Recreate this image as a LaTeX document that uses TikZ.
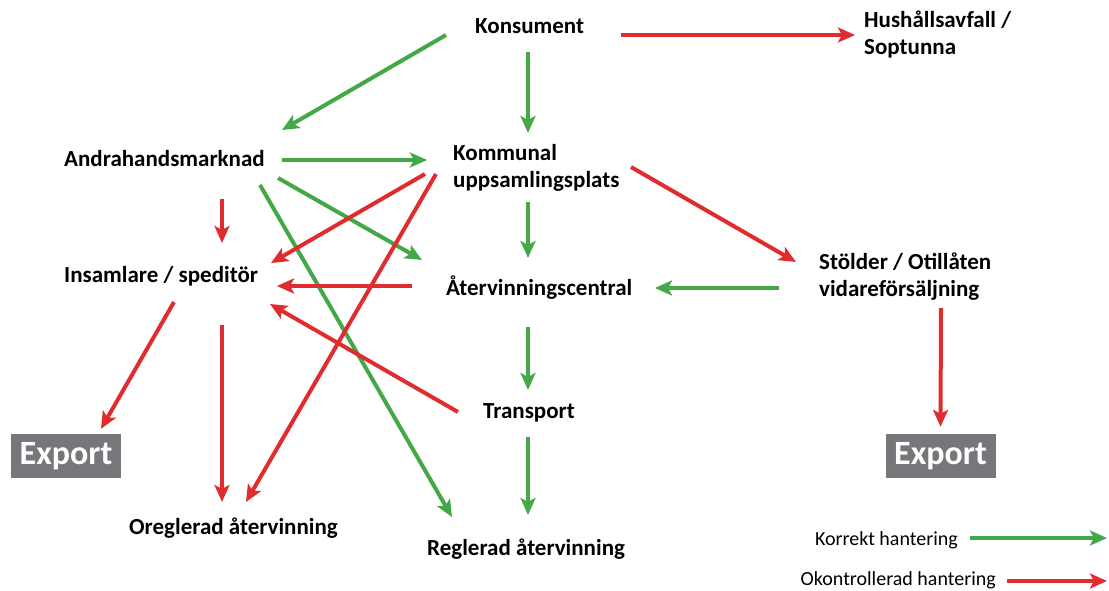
\documentclass[tikz,border=0pt]{standalone}
\usepackage{fontspec}
\setmainfont{Carlito}
\usetikzlibrary{arrows.meta}
\definecolor{okgreen}{RGB}{68,168,72}
\definecolor{badred}{RGB}{224,44,46}
\definecolor{exgray}{RGB}{118,119,123}

\begin{document}
\begin{tikzpicture}[x=1pt,y=-1pt,
    place/.style={font=\bfseries\fontsize{23}{27}\selectfont,inner sep=0pt,anchor=base west,align=left},
    legtext/.style={font=\fontsize{20}{24}\selectfont,inner sep=0pt,anchor=base east},
    exbox/.style={fill=exgray,text=white,font=\bfseries\fontsize{34}{34}\selectfont,
        minimum width=110pt,minimum height=44pt,inner sep=0pt},
    good/.style={draw=okgreen,line width=4pt,-{Stealth[length=17pt,width=15pt,inset=4pt]}},
    bad/.style={draw=badred,line width=4pt,-{Stealth[length=17pt,width=15pt,inset=4pt]}}]
    \useasboundingbox (0,0) rectangle (1109,591);
    % two-line nodes sit on the baseline of their last line
    \node[place] (kons) at (475,34) {Konsument};
    \node[place] (hush) at (864,55) {Hushållsavfall /\\Soptunna};
    \node[place] (andra) at (64,167) {Andrahandsmarknad};
    \node[place] (komm) at (453,187) {Kommunal\\uppsamlingsplats};
    \node[place] (insam) at (64,282) {Insamlare / speditör};
    \node[place] (aterv) at (446,295) {Återvinningscentral};
    \node[place] (stold) at (819,296) {Stölder / Otillåten\\vidareförsäljning};
    \node[place] (trans) at (483,418) {Transport};
    \node[place] (oregl) at (129,534) {Oreglerad återvinning};
    \node[place] (regl) at (427,555) {Reglerad återvinning};
    \node[exbox] (exL) at (66,456) {Export};
    \node[exbox] (exR) at (940.5,456) {Export};
    \node[legtext] (korr) at (958,545) {Korrekt hantering};
    \node[legtext] (okon) at (996,585) {Okontrollerad hantering};
    \coordinate (korrEnd) at (1107,538);
    \coordinate (okonEnd) at (1107,581);

    \draw[good] ([shift={(-29,1)}]kons.base west) -- ([shift={(218,-37)}]andra.base west);
    \draw[good] ([shift={(53,18)}]kons.base west) -- ([shift={(75,-54)}]komm.base west);
    \draw[bad] ([shift={(146,1)}]kons.base west) -- ([shift={(-9,-20)}]hush.base west);
    \draw[good] ([shift={(218,-7)}]andra.base west) -- ([shift={(-26,-27)}]komm.base west);
    \draw[bad] ([shift={(158,32)}]andra.base west) -- ([shift={(158,-39)}]insam.base west);
    \draw[good] ([shift={(214,11)}]andra.base west) -- ([shift={(-24,-35)}]aterv.base west);
    \draw[good] ([shift={(196,18)}]andra.base west) -- ([shift={(25,-38)}]regl.base west);
    \draw[bad] ([shift={(-28,-13)}]komm.base west) -- ([shift={(207,-19)}]insam.base west);
    \draw[bad] ([shift={(-17,-13)}]komm.base west) -- ([shift={(117,-32)}]oregl.base west);
    \draw[good] ([shift={(75,15)}]komm.base west) -- ([shift={(82,-37)}]aterv.base west);
    \draw[bad] ([shift={(178,-20)}]komm.base west) -- ([shift={(-23,-34)}]stold.base west);
    \draw[good] ([shift={(-40,-8)}]stold.base west) -- ([shift={(209,-7)}]aterv.base west);
    \draw[bad] ([shift={(-34,-9)}]aterv.base west) -- ([shift={(213,4)}]insam.base west);
    \draw[bad] ([shift={(110,20)}]insam.base west) -- ([shift={(35,-5)}]exL.north);
    \draw[bad] ([shift={(158,43)}]insam.base west) -- ([shift={(93,-32)}]oregl.base west);
    \draw[good] ([shift={(82,32)}]aterv.base west) -- ([shift={(45,-28)}]trans.base west);
    \draw[bad] ([shift={(-25,-6)}]trans.base west) -- ([shift={(206,22)}]insam.base west);
    \draw[good] ([shift={(45,19)}]trans.base west) -- ([shift={(101,-40)}]regl.base west);
    \draw[bad] ([shift={(122,12)}]stold.base west) -- ([shift={(0,-7)}]exR.north);
    \draw[good] ([shift={(12,-7)}]korr.base east) -- (korrEnd);
    \draw[bad] ([shift={(11,-4)}]okon.base east) -- (okonEnd);
\end{tikzpicture}
\end{document}
